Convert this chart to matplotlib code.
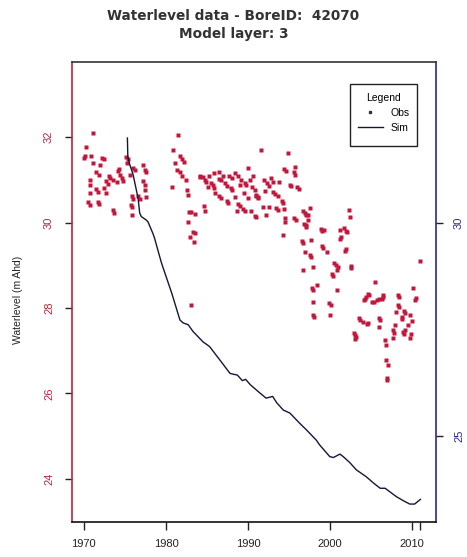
import matplotlib
matplotlib.use("Agg")
import matplotlib.pyplot as plt
from matplotlib.lines import Line2D
from matplotlib.patches import Rectangle

plt.rcParams['font.family'] = ['Liberation Sans', 'DejaVu Sans']

title_lines = ["Waterlevel data - BoreID:  42070", "Model layer: 3"]
ylabel = "Waterlevel (m Ahd)"

obs_year = [
    1971.1, 1970.3, 1970.0, 1970.1, 1970.9, 1972.2, 1972.4, 1971.1, 1972.0, 1971.5, 1971.9, 1973.0, 1973.2, 1972.7,
    1972.9, 1974.2, 1974.4, 1974.6, 1974.8, 1974.3, 1970.7, 1970.8, 1970.7, 1971.5, 1971.7, 1972.5, 1972.7, 1970.5,
    1970.7, 1971.7, 1971.9, 1973.6, 1973.7, 1975.1, 1975.4, 1975.3, 1975.6, 1976.0, 1976.2, 1977.2, 1977.4, 1977.6,
    1977.2, 1977.5, 1976.6, 1976.8, 1975.8, 1976.0, 1975.7, 1975.9, 1975.8, 1977.6, 1977.4, 1973.6, 1974.0,
    1981.5, 1980.9, 1981.7, 1982.0, 1982.2, 1981.1, 1981.3, 1981.7, 1981.9, 1980.7, 1982.5, 1982.6, 1982.7, 1984.6,
    1984.7, 1982.8, 1983.0, 1983.5, 1982.7, 1983.3, 1983.5, 1982.9, 1983.4, 1983.0,
    1984.1, 1984.2, 1984.9, 1985.3, 1985.5, 1985.7, 1985.1, 1986.5, 1986.4, 1986.7, 1985.9, 1986.4, 1986.7, 1987.2,
    1987.4, 1987.7, 1988.0, 1988.4, 1988.8, 1987.9, 1988.1, 1989.0, 1987.4, 1987.6, 1988.4, 1988.8, 1989.0, 1990.0,
    1989.6, 1989.8, 1990.5, 1990.8, 1990.0, 1989.4, 1989.6, 1988.6, 1991.0, 1991.2, 1990.4, 1984.5, 1984.8, 1985.8,
    1986.0, 1987.0, 1989.2, 1989.5, 1990.2, 1990.6,
    1991.6, 1994.9, 1994.4, 1994.6, 1995.7, 1995.7, 1995.6, 1996.0, 1996.2, 1995.1, 1995.2, 1992.0, 1992.3, 1992.5,
    1993.0, 1993.3, 1993.6, 1991.0, 1991.2, 1994.1, 1994.3, 1993.4, 1993.6, 1992.6, 1991.8, 1990.9, 1991.0, 1992.2,
    1994.5, 1994.5, 1994.3, 1994.4, 1995.6, 1995.8, 1996.7, 1996.9, 1997.0, 1997.3, 1997.3, 1997.5, 1996.8, 1997.0,
    1997.1, 1996.6, 1996.7, 1997.7, 1997.5, 1997.7, 1996.9, 1996.7, 1997.9, 1997.8, 1997.9, 1998.4, 1997.9, 1997.9,
    1998.0, 1992.8, 1993.1, 1993.8, 1992.1,
    1998.9, 1999.05, 1999.2, 1999.0, 1999.1, 1999.6, 2000.5, 2000.7, 2000.9, 2000.8, 2000.2, 2000.3, 2000.8, 1999.9,
    2000.1, 2000.0, 2002.3, 2002.4, 2001.7, 2001.9, 2002.1, 2001.3, 2001.2, 2001.9, 2001.8, 2002.5, 2002.6, 2001.2,
    2005.5, 2004.6, 2004.7, 2004.35, 2004.2, 2004.1, 2006.4, 2006.5, 2006.3, 2005.1, 2005.3, 2003.5, 2003.7, 2004.0,
    2004.5, 2004.6, 2002.9, 2003.0, 2003.1, 2003.0, 2006.0, 2006.1, 2005.9, 2008.3, 2008.4, 2009.0, 2009.1, 2008.7,
    2008.8, 2009.1, 2009.8, 2009.7, 2010.1, 2010.5, 2010.4, 2010.9, 2009.7, 2007.9, 2007.8, 2007.6, 2006.7, 2006.8,
    2006.8, 2007.0, 2006.9, 2006.9, 2007.6, 2008.9, 2009.0, 2008.3, 2008.4, 2005.7, 2005.9, 2008.0, 2009.5, 2010.0,
]
obs_level = [
    32.09, 31.78, 31.52, 31.55, 31.55, 31.52, 31.50, 31.39, 31.35, 31.19, 31.12, 31.10, 31.04, 30.97,
    30.90, 31.20, 31.12, 31.05, 30.98, 31.25, 31.00, 30.88, 30.69, 30.78, 30.72, 30.80, 30.70, 30.48,
    30.42, 30.48, 30.44, 30.30, 30.22, 31.53, 31.50, 31.40, 31.12, 31.28, 31.24, 31.35, 31.22, 31.19,
    30.97, 30.88, 30.62, 30.56, 30.62, 30.56, 30.42, 30.36, 30.18, 30.61, 30.77, 31.00, 30.95,
    32.05, 31.70, 31.55, 31.50, 31.42, 31.39, 31.22, 31.18, 31.10, 30.84, 31.00, 30.77, 30.65, 30.39,
    30.26, 30.24, 30.24, 30.20, 30.02, 29.77, 29.75, 29.67, 29.54, 28.07,
    31.07, 31.10, 30.96, 31.08, 30.92, 30.88, 30.84, 31.19, 31.03, 31.00, 30.81, 30.62, 30.58, 30.92,
    30.86, 31.08, 31.05, 31.16, 31.08, 30.80, 30.77, 30.88, 30.50, 30.46, 30.61, 30.43, 30.38, 31.27,
    30.92, 30.88, 30.83, 30.76, 30.57, 30.31, 30.27, 30.26, 30.62, 30.58, 30.26, 31.07, 31.00, 31.15,
    30.70, 31.10, 31.00, 30.70, 31.00, 31.10,
    31.70, 31.64, 31.25, 31.20, 31.31, 31.12, 31.19, 30.83, 30.78, 30.88, 30.86, 31.00, 30.93, 30.86,
    30.72, 30.68, 30.63, 30.65, 30.60, 30.50, 30.45, 30.34, 30.30, 30.37, 30.37, 30.16, 30.14, 30.18,
    30.10, 30.02, 29.71, 30.32, 30.10, 30.07, 30.26, 30.22, 30.17, 30.18, 30.06, 30.35, 29.97, 29.94,
    29.90, 29.57, 29.53, 29.60, 29.24, 29.20, 29.32, 28.89, 28.97, 28.47, 28.43, 28.54, 28.13, 27.84,
    27.80, 31.05, 30.95, 30.95, 30.75,
    29.85, 29.80, 29.83, 29.45, 29.40, 29.32, 29.06, 29.00, 28.95, 28.90, 28.80, 28.75, 28.42, 28.12,
    28.08, 27.84, 30.30, 30.14, 29.88, 29.80, 29.78, 29.66, 29.62, 29.38, 29.33, 28.98, 28.94, 29.83,
    28.62, 28.33, 28.30, 28.26, 28.22, 28.18, 28.31, 28.26, 28.22, 28.13, 28.15, 27.77, 27.72, 27.67,
    27.63, 27.66, 27.42, 27.37, 27.33, 27.28, 27.77, 27.72, 27.56, 28.31, 28.26, 27.93, 27.88, 27.79,
    27.74, 27.49, 27.39, 27.30, 28.46, 28.24, 28.19, 29.09, 27.84, 27.61, 27.42, 27.30, 27.25, 27.14,
    26.79, 26.67, 26.36, 26.32, 27.49, 27.44, 27.40, 28.07, 28.02, 28.19, 28.22, 27.90, 27.60, 27.70,
]

sim_year = [1975.3, 1975.35, 1975.6, 1976.0, 1976.6, 1976.8, 1977.0, 1977.6, 1977.8, 1978.4, 1978.6, 1979.4,
            1979.6, 1980.7, 1981.7, 1982.1, 1982.7, 1983.3, 1984.5, 1985.3, 1986.5, 1987.8, 1988.2, 1988.7,
            1989.3, 1989.7, 1990.3, 1991.2, 1992.2, 1993.0, 1993.5, 1994.3, 1995.1, 1996.3, 1997.1, 1998.3,
            1998.7, 1999.96, 2000.4, 2001.2, 2001.6, 2002.4, 2003.2, 2004.4, 2005.3, 2006.1, 2006.7, 2007.4,
            2008.1, 2009.0, 2009.7, 2010.3, 2011.0]
sim_level = [31.98, 31.55, 31.35, 31.12, 30.57, 30.22, 30.14, 30.06, 30.02, 29.75, 29.64, 29.09,
             28.97, 28.35, 27.72, 27.65, 27.61, 27.45, 27.21, 27.10, 26.80, 26.47, 26.45, 26.43,
             26.30, 26.33, 26.20, 26.05, 25.89, 25.93, 25.78, 25.61, 25.54, 25.30, 25.15, 24.91,
             24.80, 24.52, 24.50, 24.58, 24.52, 24.38, 24.21, 24.05, 23.90, 23.78, 23.78, 23.68,
             23.58, 23.48, 23.41, 23.41, 23.52]

x_ticks = [1970, 1980, 1990, 2000, 2010]
x_minor = [2011]
left_ticks = [24, 26, 28, 30, 32]
right_ticks = [25, 30]

RED = '#b8243c'
PT = '#c0183c'
BLUE = '#2a2a8c'
SIM = '#15153a'

fig = plt.figure(figsize=(4.67, 5.57), dpi=100)
ax = fig.add_axes([72/467, 1-522/557, (436-72)/467, (522-62)/557])

ax.plot(obs_year, obs_level, linestyle='none', marker='s', ms=2.4, mec='none', color=PT, zorder=3)
ax.plot(sim_year, sim_level, color=SIM, lw=1.0, zorder=4)

ax.set_xlim(1968.55, 2012.9)
ax.set_ylim(22.99, 33.76)
ax.set_xticks(x_ticks)
ax.set_xticks(x_minor, minor=True)
ax.set_xticklabels([str(t) for t in x_ticks])
ax.set_yticks(left_ticks)
ax.set_yticklabels([str(t) for t in left_ticks], rotation=90, va='center', color=RED)
ax.tick_params(axis='x', which='both', length=6, width=1, labelsize=8, pad=6, colors='#222222')
ax.tick_params(axis='y', length=5, width=1, labelsize=8, pad=8, colors='#222222')
for lab in ax.get_yticklabels():
    lab.set_color(RED)

ax.spines['left'].set_color(RED)
ax.spines['right'].set_color(BLUE)
ax.spines['top'].set_color('#333333')
ax.spines['bottom'].set_color('#111111')
for s in ax.spines.values():
    s.set_linewidth(1.2)

ax2 = ax.twinx()
ax2.set_ylim(ax.get_ylim())
ax2.set_yticks(right_ticks)
ax2.set_yticklabels([str(t) for t in right_ticks], rotation=90, va='center', color=BLUE)
ax2.tick_params(axis='y', length=5, width=1, labelsize=8, pad=8, colors='#222222')
for lab in ax2.get_yticklabels():
    lab.set_color(BLUE)
for s in ax2.spines.values():
    s.set_visible(False)

fig.text(18/467, 1-300/557, ylabel, rotation=90, ha='center', va='center', fontsize=7.5, color='#222222')
fig.text(0.5, 1-16/557, title_lines[0], ha='center', va='center', fontsize=9.8, fontweight='bold',
         color='#333333', family='DejaVu Sans')
fig.text(0.5, 1-34/557, title_lines[1], ha='center', va='center', fontsize=9.8, fontweight='bold',
         color='#333333', family='DejaVu Sans')

# legend box
ax.add_patch(Rectangle((0.764, 0.817), 0.184, 0.135, transform=ax.transAxes, fill=True,
                       facecolor='white', edgecolor='#222222', lw=1.0, zorder=5))
handles = [Line2D([], [], linestyle='none', marker='s', ms=1.6, color='#333333'),
           Line2D([], [], color=SIM, lw=1.0)]
leg = ax.legend(handles, ['Obs', 'Sim'], title='Legend', loc='upper center',
                bbox_to_anchor=(0.856, 0.94), fontsize=7.5, title_fontsize=7.5,
                frameon=False, handlelength=2.4,
                borderpad=0.3, labelspacing=0.5, handletextpad=0.7, borderaxespad=0)
leg.set_zorder(6)

fig.savefig('out.png', dpi=100)
